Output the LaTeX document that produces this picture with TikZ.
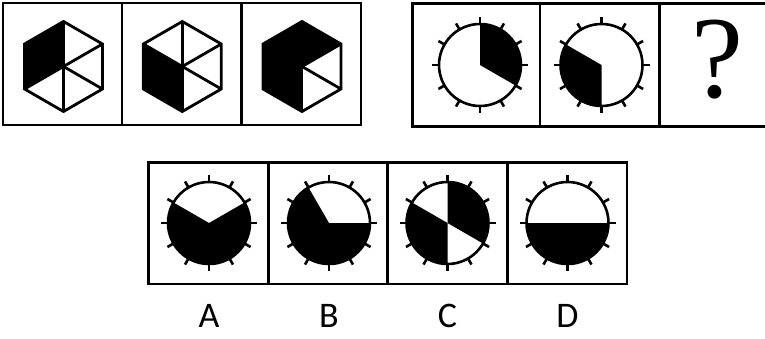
\documentclass[tikz,border=0pt]{standalone}
\usepackage{fontspec}
\newfontfamily\labelfont{Carlito}
\newfontfamily\qfont{Liberation Serif}
\usetikzlibrary{calc}

\newcommand{\dial}[1]{%
  \draw[dial line] (#1) circle[radius=41];
  \foreach \a in {0,30,...,330}
    \draw[dial line] ($(#1)+(\a:40)$) -- ($(#1)+(\a:48)$);
}
\newcommand{\slice}[3]{%
  \fill (#1) -- ($(#1)+(#2:41)$) arc[start angle=#2, end angle=#3, radius=41] -- cycle;
}
\newcommand{\hexa}[2]{%
  \foreach \a in {#2}
    \fill (#1) -- ($(#1)+(\a:45)$) -- ($(#1)+(\a+60:45)$) -- cycle;
  \foreach \a in {30,90,...,330}
    \draw[hex line] (#1) -- ($(#1)+(\a:45)$);
  \draw[hex line] ($(#1)+(30:45)$) \foreach \a in {90,150,...,330} { -- ($(#1)+(\a:45)$) } -- cycle;
}

\begin{document}
\begin{tikzpicture}[x=1pt,y=1pt,
                    frame/.style={line width=2.6pt},
                    dial line/.style={line width=2.6pt},
                    hex line/.style={line width=2.8pt},
                    qmark/.style={inner sep=0pt,font=\qfont\fontsize{117}{120}\selectfont},
                    option/.style={inner sep=0pt,anchor=base,font=\labelfont\fontsize{36}{40}\selectfont}]
  \useasboundingbox (0,0) rectangle (765,338);

  % top left: hexagons
  \draw[frame] (3,213) rectangle (361,335);
  \draw[frame] (122,213) -- (122,335);
  \draw[frame] (241.3,213) -- (241.3,335);

  \coordinate (h1) at (63.5,271.5);
  \coordinate (h2) at (182.3,271.5);
  \coordinate (h3) at (302,271.5);
  \hexa{h1}{90,150}
  \hexa{h2}{150,210}
  \hexa{h3}{30,90,150,210}

  % top right: dials and question
  \draw[frame] (412.3,211.5) rectangle (779,334.5);
  \draw[frame] (540,211.5) -- (540,334.5);
  \draw[frame] (659.3,211.5) -- (659.3,334.5);

  \coordinate (t1) at (480,273);
  \coordinate (t2) at (601.5,273);
  \slice{t1}{-30}{90}
  \dial{t1}
  \slice{t2}{150}{270}
  \dial{t2}
  \node[qmark] (q) at (717,278.5) {?};

  % options
  \draw[frame] (148.5,54) rectangle (627,175.7);
  \draw[frame] (268.5,54) -- (268.5,175.7);
  \draw[frame] (387.5,54) -- (387.5,175.7);
  \draw[frame] (507.5,54) -- (507.5,175.7);

  \coordinate (a) at (209,115);
  \coordinate (b) at (329,115);
  \coordinate (c) at (447.5,115);
  \coordinate (d) at (567.5,115);
  \slice{a}{150}{390}
  \dial{a}
  \slice{b}{120}{360}
  \dial{b}
  \slice{c}{-30}{90}
  \slice{c}{150}{270}
  \dial{c}
  \slice{d}{180}{360}
  \dial{d}

  \node[option] (la) at (209,11) {A};
  \node[option] (lb) at (329,11) {B};
  \node[option] (lc) at (447.5,11) {C};
  \node[option] (ld) at (567.5,11) {D};
\end{tikzpicture}
\end{document}
